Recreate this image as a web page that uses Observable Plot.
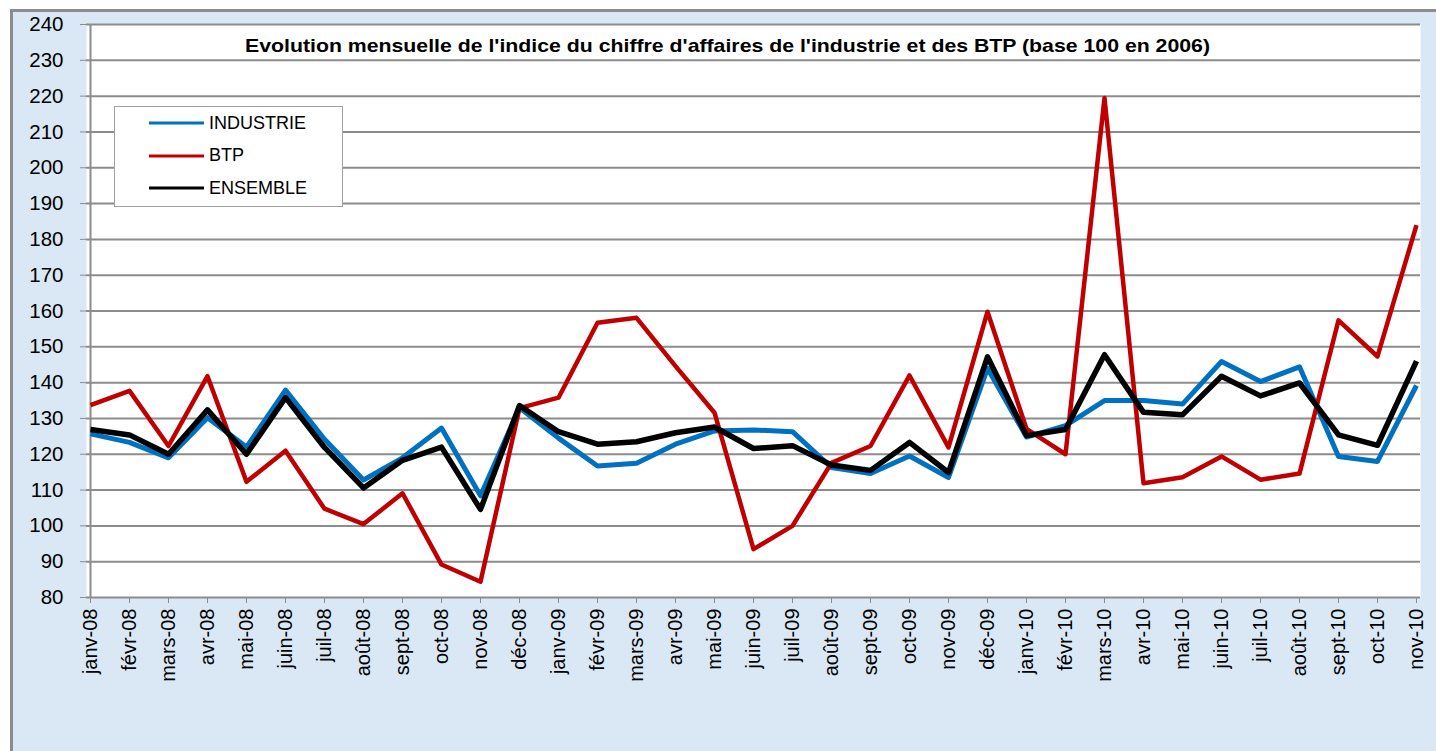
<!DOCTYPE html>
<html>
<head>
<meta charset="utf-8">
<script src="https://cdn.jsdelivr.net/npm/d3@7"></script>
<script src="https://cdn.jsdelivr.net/npm/@observablehq/plot@0.6"></script>
<style>
  html, body { margin: 0; padding: 0; background: #ffffff; }
  #frame {
    position: absolute; left: 10px; top: 9px;
    width: 1426px; height: 742px;
    border-top: 3px solid #8c8c8c; border-left: 3px solid #8c8c8c;
    background: #dae8f5; overflow: hidden;
  }
  #chart { position: absolute; left: 0; top: 0; }
  #legend {
    position: absolute; left: 101px; top: 94px; width: 227px; height: 99px;
    background: #ffffff; border: 1px solid #a0a0a0;
    font-family: "Liberation Sans", Arial, sans-serif; font-size: 18px; color: #000;
  }
  .item { position: absolute; left: 34px; height: 22px; display: flex; align-items: center; }
  .item svg { margin-right: 5px; }
</style>
</head>
<body>
<div id="frame">
  <div id="chart"></div>
  <div id="legend"></div>
</div>
<script>
const months = ["janv-08","févr-08","mars-08","avr-08","mai-08","juin-08","juil-08","août-08","sept-08","oct-08","nov-08","déc-08",
  "janv-09","févr-09","mars-09","avr-09","mai-09","juin-09","juil-09","août-09","sept-09","oct-09","nov-09","déc-09",
  "janv-10","févr-10","mars-10","avr-10","mai-10","juin-10","juil-10","août-10","sept-10","oct-10","nov-10"];

const industrie = [125.7,123.3,119,130.2,122,137.9,124.2,112.8,119,127.3,108.4,133,
  124.5,116.7,117.5,122.8,126.5,126.8,126.3,116.3,114.6,119.5,113.5,144,
  124.8,128,135,135,134,145.9,140.3,144.4,119.4,118,139.2];

const btp = [133.7,137.7,122.3,141.8,112.3,121,104.8,100.5,109.1,89.2,84.4,132.9,
  135.8,156.7,158.1,144.6,131.6,93.5,100,117.6,122.3,142,121.9,159.8,
  127.1,120,219.5,111.9,113.6,119.4,112.9,114.6,157.4,147.3,184];

const ensemble = [126.9,125.4,120,132.4,120,135.8,121.9,110.6,118.3,122,104.6,133.6,
  126.3,122.8,123.5,126,127.6,121.6,122.4,117,115.5,123.3,114.9,147.2,
  125.2,126.9,147.8,131.7,131,141.8,136.3,139.9,125.4,122.5,146];

const seriesNames = ["INDUSTRIE","BTP","ENSEMBLE"];
const seriesColors = ["#0070c0","#c00000","#000000"];
const seriesWidths = [5, 4.5, 5.5];
const seriesValues = [industrie, btp, ensemble];
const yTicks = d3.range(80, 241, 10);
const title = "Evolution mensuelle de l'indice du chiffre d'affaires de l'industrie et des BTP (base 100 en 2006)";

const data = seriesNames.flatMap((name, s) =>
  months.map((m, i) => ({series: name, month: m, value: seriesValues[s][i]})));

const font = "'Liberation Sans', Arial, sans-serif";

const chart = Plot.plot({
  width: 1423,
  height: 739,
  marginLeft: 73,
  marginRight: 16,
  marginTop: 12,
  marginBottom: 154,
  style: {background: "transparent", fontFamily: font, color: "#000"},
  x: {type: "point", domain: months, padding: 0, label: null},
  y: {domain: [80, 240], label: null},
  marks: [
    Plot.frame({fill: "white", stroke: null}),
    Plot.ruleY(yTicks, {stroke: "#8c8c8c", strokeWidth: 2}),
    Plot.ruleX([months[0]], {stroke: "#8c8c8c", strokeWidth: 2}),
    Plot.axisY({ticks: yTicks, tickSize: 6, tickPadding: 17, fontSize: 20.5, stroke: "#8c8c8c", label: null, tickFormat: d => String(d)}),
    Plot.axisX({tickSize: 6, tickPadding: 5, tickRotate: -90, fontSize: 20, stroke: "#8c8c8c", label: null}),
    ...seriesNames.map((name, s) =>
      Plot.line(data.filter(d => d.series === name), {
        x: "month", y: "value", stroke: seriesColors[s],
        strokeWidth: seriesWidths[s], strokeLinejoin: "round", strokeLinecap: "butt"
      })),
    Plot.text([title], {frameAnchor: "top", dx: -26, dy: 14, fontSize: 18.5, fontWeight: "bold", fill: "#000"})
  ]
});
// stretch the title glyphs horizontally like the reference
d3.select(chart).selectAll("text").filter(function() { return this.textContent === title; })
  .attr("textLength", 965).attr("lengthAdjust", "spacingAndGlyphs");
document.getElementById("chart").appendChild(chart);

const legend = document.getElementById("legend");
const centers = [16, 48.5, 81];
seriesNames.forEach((name, s) => {
  const div = document.createElement("div");
  div.className = "item";
  div.style.top = (centers[s] - 11) + "px";
  div.innerHTML = `<svg width="55" height="6"><line x1="0" y1="3" x2="55" y2="3" stroke="${seriesColors[s]}" stroke-width="3"/></svg><span>${name}</span>`;
  legend.appendChild(div);
});
</script>
</body>
</html>
